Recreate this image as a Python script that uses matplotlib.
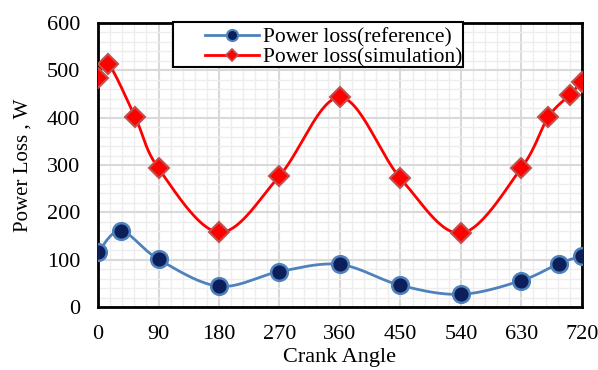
import numpy as np
import matplotlib.pyplot as plt
from matplotlib.patches import Rectangle
from matplotlib.ticker import MultipleLocator

# crank angle (deg) and power loss (W)
ang_ref = [0, 34, 90, 180, 270, 360, 450, 540, 630, 686, 720]
loss_ref = [116, 161, 101, 44, 75, 90, 46, 27, 56, 92, 108]
ang_sim = [0, 15, 55, 90, 180, 270, 360, 450, 540, 630, 670, 702, 720]
loss_sim = [484, 514, 402, 293, 158, 277, 443, 272, 156, 294, 401, 448, 476]
xticks = [0, 90, 180, 270, 360, 450, 540, 630, 720]


def smooth(x, y, n=30):
    # excel-like smoothed line: cubic bezier with catmull-rom control points
    p = np.column_stack([x, y]).astype(float)
    p = np.vstack([p[0], p, p[-1]])
    out = []
    t = np.linspace(0, 1, n)[:, None]
    for i in range(1, len(p) - 2):
        p0, p1, p2, p3 = p[i - 1], p[i], p[i + 1], p[i + 2]
        c1 = p1 + (p2 - p0) / 6
        c2 = p2 - (p3 - p1) / 6
        seg = ((1 - t) ** 3) * p1 + 3 * ((1 - t) ** 2) * t * c1 + 3 * (1 - t) * t ** 2 * c2 + t ** 3 * p2
        out.append(seg)
    s = np.vstack(out)
    return s[:, 0], s[:, 1]


plt.rcParams['font.family'] = ['Liberation Serif', 'DejaVu Serif']
fig = plt.figure(figsize=(5.98, 3.70), dpi=100)
ax = fig.add_axes([0.164, 0.170, 0.809, 0.768])

xs, ys = smooth(ang_ref, loss_ref)
ax.plot(xs, ys, color='#4f81bd', lw=2, zorder=3)
ax.plot(ang_ref, loss_ref, ls='none', marker='o', ms=12, mfc='#0c1f5a', mec='#4f81bd', mew=1.8, zorder=4)
xs, ys = smooth(ang_sim, loss_sim)
ax.plot(xs, ys, color='#ff0000', lw=2, zorder=3)
ax.plot(ang_sim, loss_sim, ls='none', marker='D', ms=10, mfc='#ff0000', mec='#c0504d', mew=1.5, zorder=4)

# legend box (wider than its contents, like the original)
ax.add_patch(Rectangle((0.155, 0.845), 0.599, 0.16, transform=ax.transAxes, facecolor='white',
                       edgecolor='black', lw=1.5, zorder=5, clip_on=False))
h1, = ax.plot([], [], color='#4f81bd', lw=2, marker='o', ms=8, mfc='#0c1f5a', mec='#4f81bd', mew=1.5)
h2, = ax.plot([], [], color='#ff0000', lw=2, marker='D', ms=6, mfc='#ff0000', mec='#c0504d', mew=1.2)
leg = ax.legend([h1, h2], ['Power loss(reference)', 'Power loss(simulation)'],
                loc='upper left', bbox_to_anchor=(0.221, 0.985), fontsize=15.5, frameon=False,
                handlelength=2.5, borderpad=0, labelspacing=0.02, handletextpad=0.2, borderaxespad=0)
leg.set_zorder(6)

ax.set_xlim(0, 720)
ax.set_ylim(0, 600)
ax.set_xticks(xticks)
ax.xaxis.set_minor_locator(MultipleLocator(18))
ax.yaxis.set_major_locator(MultipleLocator(100))
ax.yaxis.set_minor_locator(MultipleLocator(20))
ax.grid(True, which='major', color='#d9d9d9', lw=1.5, zorder=0)
ax.grid(True, which='minor', color='#ededed', lw=1.0, zorder=0)
ax.set_axisbelow(True)
ax.tick_params(which='both', length=0, labelsize=16)
ax.tick_params(axis='y', pad=13)
ax.tick_params(axis='x', pad=13)
for s in ax.spines.values():
    s.set_linewidth(2)
    s.set_color('black')

ax.set_xlabel('Crank Angle', fontsize=16, labelpad=3)
ax.set_ylabel('Power Loss , W', fontsize=15, labelpad=10)

fig.savefig('out.png', dpi=100)
